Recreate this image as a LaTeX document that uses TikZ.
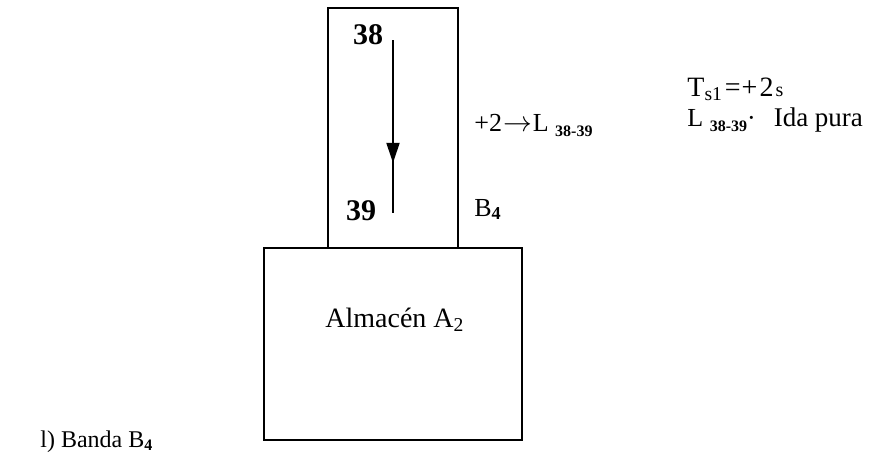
\documentclass[tikz,border=0pt]{standalone}
\usepackage{fontspec}
\setmainfont{Liberation Serif}
\usepackage{tikz}
\usetikzlibrary{arrows.meta,positioning,decorations.markings}
\tikzset{
  caja/.style={rectangle, draw=black, line width=1.3pt, inner sep=0pt},
  etiq/.style={font=\fontsize{13}{15}\selectfont, inner sep=0pt, anchor=base west},
  punto/.style={font=\fontsize{15}{17}\selectfont\bfseries, inner sep=0pt},
  flujo/.style={line width=1pt, postaction={decorate},
    decoration={markings, mark=at position 0.71 with
      {\arrow{Triangle[length=10pt, width=6.5pt]}}}},
}
\newcommand{\sub}[1]{\textsubscript{#1}}
\newcommand{\tramo}{{\fontsize{8}{9}\selectfont\raisebox{-2.5pt}{\bfseries 38-39}}}
\begin{document}
\begin{tikzpicture}[x=0.5pt, y=-0.5pt]
\useasboundingbox (0,0) rectangle (874,461);

% -- banda B4 y almacen
\node[caja, minimum width=65pt, minimum height=120pt] (banda) at (393,128) {};
\node[caja, minimum width=129pt, minimum height=96pt] (almacen) at (393,344) {};
\node[etiq, font=\fontsize{14}{16}\selectfont] (alm) at (325,327) {Almacén A\sub{2}};

% -- puntos 38 y 39 con sentido de ida
\node[punto] (p38) at (368,35) {38};
\node[punto] (p39) at (361,211) {39};
\coordinate (ini) at (393,40);
\coordinate (fin) at (393,213);
\draw[flujo] (ini) -- (fin);

% -- textos a la derecha
\node[etiq] (suma) at (474,131) {+2\kern0.5pt{\fontsize{15}{15}\selectfont$\rightarrow$}\kern0.5pt L\ \tramo};
\node[etiq] (nombre) at (474,216) {B\sub{\textbf{4}}};
\node[etiq, font=\fontsize{14}{16}\selectfont] (ts) at (687,96)
  {T\sub{s1}\kern1pt=\kern0.5pt+\kern1pt2\kern1pt{\fontsize{10}{11}\selectfont s}};
\node[etiq] (ida) at (687,126)
  {L\ \tramo\textperiodcentered\hspace{9pt}{\fontsize{13.5}{15}\selectfont Ida pura}};

% -- titulo
\node[etiq, font=\fontsize{12}{14}\selectfont] (titulo) at (40,447) {l) Banda B\sub{\textbf{4}}};

\end{tikzpicture}
\end{document}
